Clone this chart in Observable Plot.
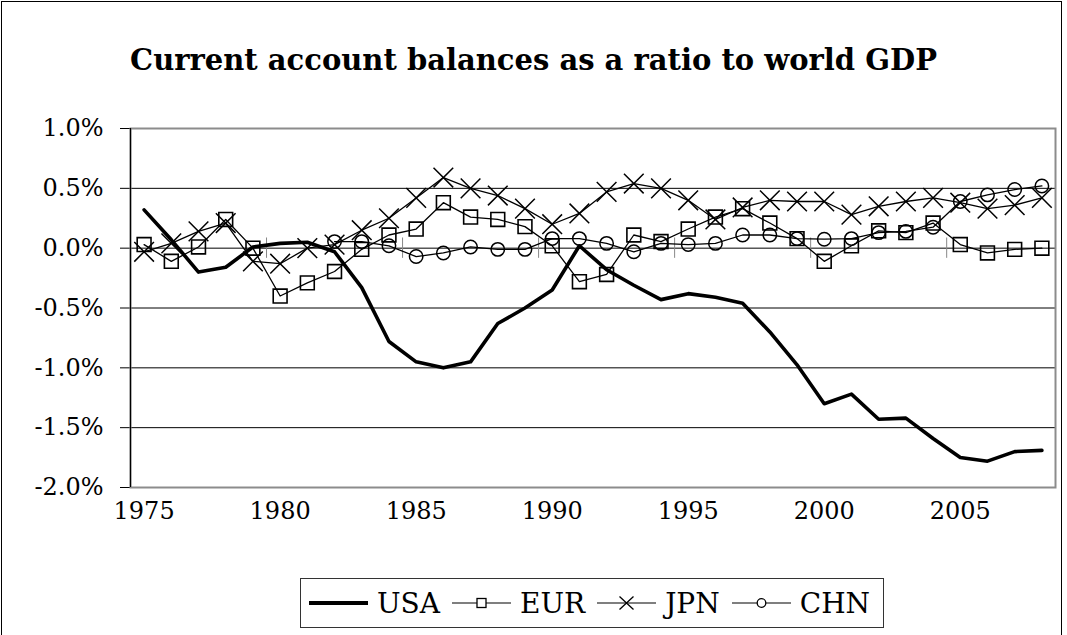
<!DOCTYPE html>
<html>
<head>
<meta charset="utf-8">
<script src="https://cdn.jsdelivr.net/npm/d3@7"></script>
<script src="https://cdn.jsdelivr.net/npm/@observablehq/plot@0.6"></script>
<style>
  html, body { margin: 0; padding: 0; background: #fff; }
  #wrap { position: relative; width: 1067px; height: 635px; overflow: hidden; font-family: "DejaVu Serif", serif; color: #000; }
  #border { position: absolute; left: 1px; top: 1px; width: 1061px; height: 640px; border: 1.5px solid #000; box-sizing: border-box; }
  #title { position: absolute; left: 0; top: 0; width: 1067px; height: 100px; text-align: center; font-weight: bold; font-size: 29px; line-height: 120px; }
  #chart { position: absolute; left: 0; top: 100px; }
  #legend { position: absolute; left: 300px; top: 578px; width: 584px; height: 50px; border: 1px solid #333; box-sizing: border-box; display: flex; align-items: center; font-size: 28px; }
  #legend .item { display: flex; align-items: center; margin-left: 8px; }
  #legend .item span { margin-left: 9px; margin-right: 4px; }
</style>
</head>
<body>
<div id="wrap">
  <div id="border"></div>
  <div id="title">Current account balances as a ratio to world GDP</div>
  <div id="chart"></div>
  <div id="legend"></div>
</div>
<script>
const years = [1975,1976,1977,1978,1979,1980,1981,1982,1983,1984,1985,1986,1987,1988,1989,1990,1991,1992,1993,1994,1995,1996,1997,1998,1999,2000,2001,2002,2003,2004,2005,2006,2007,2008];
const usa = [0.32,0.07,-0.20,-0.16,0.01,0.04,0.05,-0.03,-0.33,-0.78,-0.95,-1.00,-0.95,-0.63,-0.50,-0.35,0.02,-0.18,-0.31,-0.43,-0.38,-0.41,-0.46,-0.70,-0.975,-1.30,-1.22,-1.43,-1.42,-1.59,-1.75,-1.78,-1.70,-1.69];
const eur = [0.03,-0.11,0.01,0.24,0.00,-0.40,-0.29,-0.195,-0.01,0.11,0.16,0.38,0.26,0.24,0.18,0.02,-0.28,-0.22,0.11,0.055,0.16,0.26,0.33,0.21,0.08,-0.11,0.02,0.145,0.13,0.21,0.03,-0.04,-0.01,0.00];
const jpn = [-0.03,0.04,0.14,0.21,-0.11,-0.13,0.00,0.03,0.15,0.25,0.42,0.59,0.50,0.44,0.33,0.20,0.29,0.47,0.54,0.50,0.40,0.24,0.34,0.40,0.39,0.39,0.28,0.35,0.39,0.42,0.38,0.33,0.36,0.42];
const chn = [null,null,null,null,null,null,null,0.055,0.055,0.02,-0.07,-0.04,0.01,-0.01,-0.01,0.08,0.08,0.04,-0.03,0.04,0.03,0.04,0.11,0.11,0.08,0.075,0.08,0.13,0.14,0.175,0.39,0.445,0.49,0.52];
const yTicks = [-2.0,-1.5,-1.0,-0.5,0.0,0.5,1.0];
const xLabels = [1975,1980,1985,1990,1995,2000,2005];

const rows = (vals) => years.map((year, i) => ({year, value: vals[i]})).filter(d => d.value != null);
const usaData = rows(usa), eurData = rows(eur), jpnData = rows(jpn), chnData = rows(chn);
const boundaries = years.filter(y => y % 5 === 4 && y > 1975).map(y => y + 0.5);

const chart = Plot.plot({
  width: 1067,
  height: 460,
  marginTop: 28,
  marginBottom: 73,
  marginLeft: 130,
  marginRight: 12,
  style: { fontFamily: "DejaVu Serif, serif", fontSize: "24px", color: "#000", background: "transparent" },
  x: { domain: [years[0] - 0.5, years[years.length - 1] + 0.5], ticks: xLabels, tickFormat: d => String(d), tickSize: 0, tickPadding: 14, label: null },
  y: { domain: [-2, 1], ticks: yTicks, tickFormat: d => d.toFixed(1) + "%", tickSize: 10, tickPadding: 17, label: null },
  marks: [
    Plot.ruleY(yTicks, { stroke: "#000", strokeWidth: 1 }),
    Plot.frame({ stroke: "#8c8c8c", strokeWidth: 2 }),
    Plot.ruleX([years[0] - 0.5], { stroke: "#000", strokeWidth: 1.2 }),
    Plot.ruleX(boundaries, { y1: -0.085, y2: 0.085, stroke: "#888", strokeWidth: 1 }),
    Plot.line(eurData, { x: "year", y: "value", stroke: "#000", strokeWidth: 1.3 }),
    Plot.dot(eurData, { x: "year", y: "value", symbol: "square", r: 7.8, stroke: "#000", strokeWidth: 1.6, fill: "none" }),
    Plot.line(jpnData, { x: "year", y: "value", stroke: "#000", strokeWidth: 1.3 }),
    Plot.dot(jpnData, { x: "year", y: "value", symbol: "times", r: 9, stroke: "#000", strokeWidth: 1.5, fill: "none" }),
    Plot.line(chnData, { x: "year", y: "value", stroke: "#000", strokeWidth: 1.3 }),
    Plot.dot(chnData, { x: "year", y: "value", symbol: "circle", r: 6.7, stroke: "#000", strokeWidth: 1.5, fill: "none" }),
    Plot.line(usaData, { x: "year", y: "value", stroke: "#000", strokeWidth: 3.6, strokeLinejoin: "round" })
  ]
});
document.getElementById("chart").appendChild(chart);

// Legend
const legendItems = [
  { name: "USA", kind: "thick" },
  { name: "EUR", kind: "square" },
  { name: "JPN", kind: "times" },
  { name: "CHN", kind: "circle" }
];
const legend = document.getElementById("legend");
for (const it of legendItems) {
  const item = document.createElement("div");
  item.className = "item";
  let sw = `<svg width="59" height="20" viewBox="0 0 59 20">`;
  if (it.kind === "thick") {
    sw += `<line x1="0" y1="10" x2="59" y2="10" stroke="#000" stroke-width="4"/>`;
  } else {
    sw += `<line x1="0" y1="10" x2="59" y2="10" stroke="#000" stroke-width="1.2"/>`;
    if (it.kind === "square") sw += `<rect x="25" y="5.5" width="9" height="9" fill="#fff" stroke="#000" stroke-width="1.3"/>`;
    if (it.kind === "times") sw += `<path d="M22.5,3.5L36.5,16.5M22.5,16.5L36.5,3.5" stroke="#000" stroke-width="1.3"/>`;
    if (it.kind === "circle") sw += `<circle cx="29.5" cy="10" r="4.3" fill="#fff" stroke="#000" stroke-width="1.3"/>`;
  }
  sw += `</svg>`;
  item.innerHTML = sw + `<span>${it.name}</span>`;
  legend.appendChild(item);
}
</script>
</body>
</html>
